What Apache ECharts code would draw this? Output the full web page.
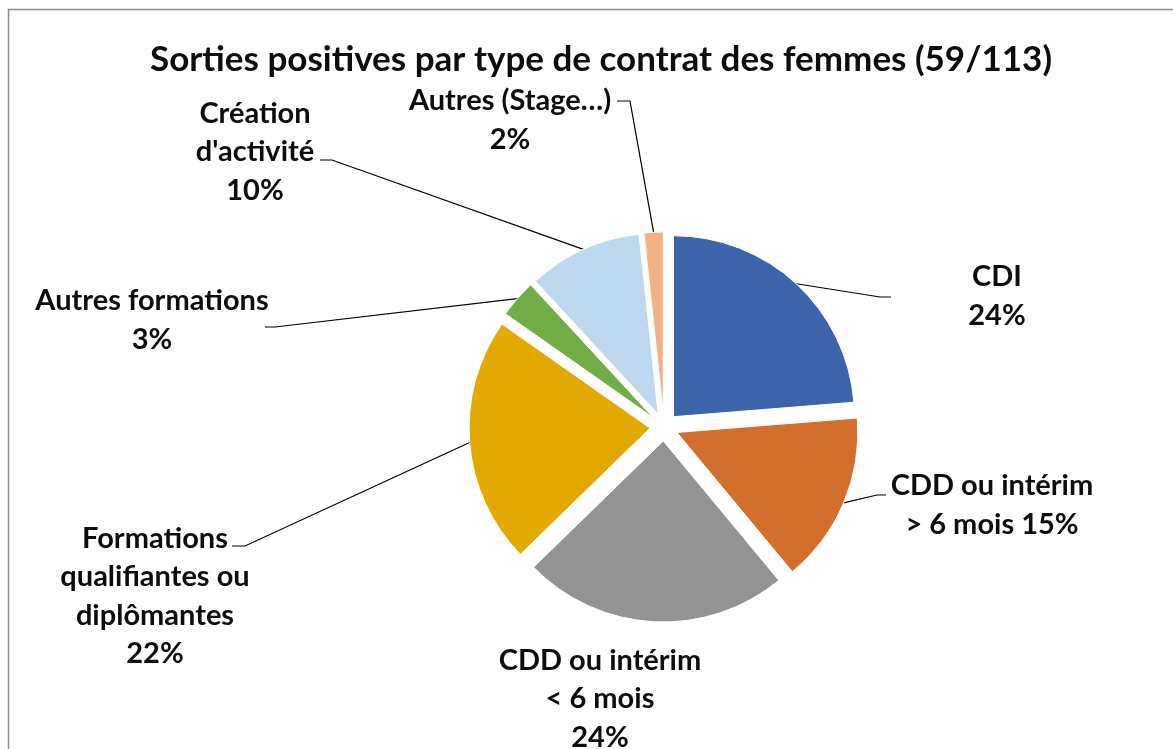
<!DOCTYPE html>
<html>
<head>
  <meta charset="utf-8">
  <title>Sorties positives</title>
  <script src="https://cdn.jsdelivr.net/npm/echarts@6/dist/echarts.min.js"></script>
</head>
<body style="margin:0">
  <div id="main" style="width:1173px;height:749px"></div>
  <script type="text/javascript">
    // data
    var categories = ['CDI', 'CDD ou intérim > 6 mois', 'CDD ou intérim < 6 mois',
      'Formations qualifiantes ou diplômantes', 'Autres formations',
      "Création d'activité", 'Autres (Stage…)'];
    var counts = [14, 9, 14, 13, 2, 6, 1];
    var colors = ['#3B64AB', '#D36E2D', '#939393', '#E2AA00', '#70AD47', '#BDD7EE', '#F4B183'];
    // words per line for each label, percent goes on its own line unless inline
    var lineWords = [[1], [3, 3], [3, 3], [1, 2, 1], [2], [1, 2], [2]];
    var pctInline = [false, true, false, false, false, false, false];

    // layout of the pie and its labels
    var cx = 664, cy = 427, R = 181, offset = 14;
    var labelPos = [
      { x: 997, y: 296, end: [[880, 297], [891, 297]] },
      { x: 992, y: 505, end: [[877, 495], [886, 495]] },
      { x: 600, y: 699, end: null },
      { x: 155, y: 596, end: [[245, 546], [232, 546]] },
      { x: 152, y: 320, end: [[275, 327], [265, 327]] },
      { x: 255, y: 152, end: [[332, 160], [320, 160]] },
      { x: 510, y: 120, end: [[630, 101], [617, 101]] }
    ];
    var labelFont = 'bold 29px Lato';

    var total = counts.reduce(function (a, b) { return a + b; }, 0);

    function labelText(i) {
      var words = categories[i].split(' ');
      var lines = [];
      var k = 0;
      lineWords[i].forEach(function (n) {
        lines.push(words.slice(k, k + n).join(' '));
        k += n;
      });
      var pct = Math.round(counts[i] / total * 100) + '%';
      if (pctInline[i]) lines[lines.length - 1] += ' ' + pct;
      else lines.push(pct);
      return lines.join('\n');
    }

    // labels and leader lines, starting at the middle of each exploded slice's rim
    var graphics = [{
      type: 'rect',
      shape: { x: 8.5, y: 9.5, width: 1300, height: 900 },
      style: { fill: null, stroke: '#8c8c8c', lineWidth: 1.5 },
      silent: true
    }];
    var acc = 0;
    counts.forEach(function (v, i) {
      var a = (acc + v / 2) / total * Math.PI * 2;
      acc += v;
      var pos = labelPos[i];
      if (pos.end) {
        graphics.push({
          type: 'polyline',
          shape: {
            points: [[cx + (R + offset) * Math.sin(a), cy - (R + offset) * Math.cos(a)],
              pos.end[0], pos.end[1]]
          },
          style: { fill: null, stroke: '#000', lineWidth: 1.2 },
          silent: true
        });
      }
      graphics.push({
        type: 'text',
        x: pos.x,
        y: pos.y,
        style: {
          text: labelText(i),
          font: labelFont,
          lineHeight: 38.5,
          fill: '#0d0d0d',
          align: 'center',
          verticalAlign: 'middle'
        },
        silent: true
      });
    });

    var myChart = echarts.init(document.getElementById('main'));

    var option = {
      animation: false,
      title: {
        text: 'Sorties positives par type de contrat des femmes (59/113)',
        left: 596,
        top: 37,
        textAlign: 'center',
        textStyle: { fontFamily: 'Lato', fontWeight: 'bold', fontSize: 35, color: '#0d0d0d' }
      },
      graphic: graphics,
      series: [{
        type: 'pie',
        center: [cx, cy],
        radius: R,
        startAngle: 90,
        clockwise: true,
        selectedMode: 'multiple',
        selectedOffset: offset,
        emphasis: { disabled: true },
        itemStyle: { borderColor: '#fff', borderWidth: 1 },
        label: { show: false },
        labelLine: { show: false },
        data: categories.map(function (name, i) {
          return {
            name: name,
            value: counts[i],
            selected: true,
            itemStyle: { color: colors[i] }
          };
        })
      }]
    };

    myChart.setOption(option);
  </script>
</body>
</html>
